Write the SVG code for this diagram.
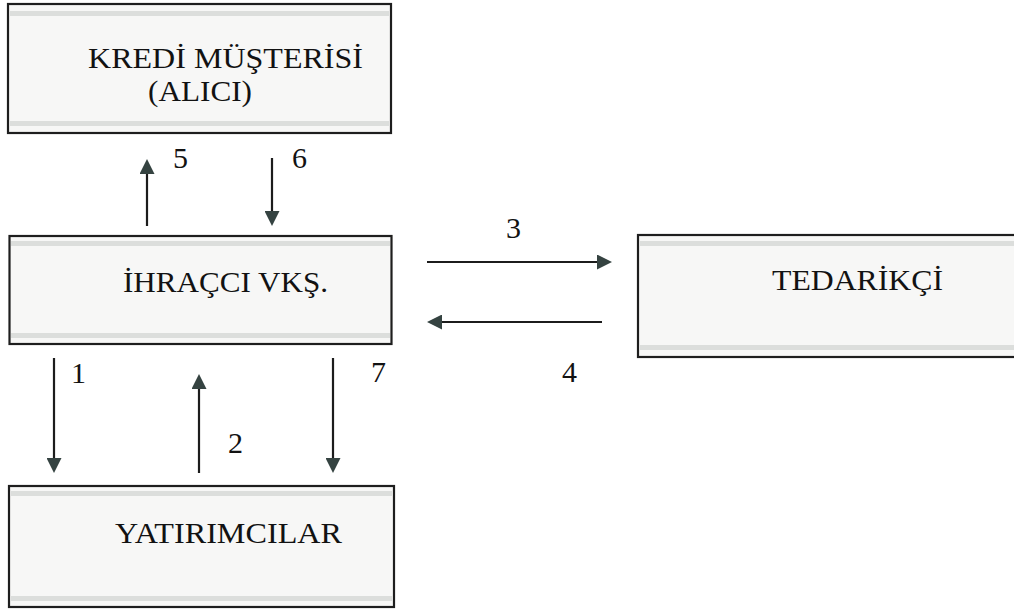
<svg xmlns="http://www.w3.org/2000/svg" width="1014" height="612" viewBox="0 0 1014 612">
<style>
.box{fill:#f7f7f6;stroke:#1e1e1e;stroke-width:2.2}
.band{fill:#dcdedc}
.lbl{font-family:"Liberation Serif","Times New Roman",serif;font-size:29px;fill:#121212}
.num{font-family:"Liberation Serif","Times New Roman",serif;font-size:30px;fill:#121212}
.arr{stroke:#1c1c1c;stroke-width:2.2;fill:none;marker-end:url(#head)}
</style>
<defs>
<marker id="head" viewBox="0 0 10 10" refX="2" refY="5" markerWidth="15" markerHeight="15" markerUnits="userSpaceOnUse" orient="auto">
<path d="M0,0 L10,5 L0,10 z" fill="#354341"/>
</marker>
</defs>
<rect width="1014" height="612" fill="#ffffff"/>
<g id="kredi">
<rect class="box" x="8" y="4" width="383" height="129"/>
<rect class="band" x="10" y="11" width="379" height="5"/>
<rect class="band" x="10" y="121" width="379" height="5"/>
<text class="lbl" x="88" y="68" textLength="275" lengthAdjust="spacingAndGlyphs">KREDİ MÜŞTERİSİ</text>
<text class="lbl" x="148" y="101" textLength="104" lengthAdjust="spacingAndGlyphs">(ALICI)</text>
</g>
<g id="ihracci">
<rect class="box" x="9.5" y="236" width="382" height="108"/>
<rect class="band" x="11" y="241" width="379" height="5"/>
<rect class="band" x="11" y="333" width="379" height="5"/>
<text class="lbl" x="123" y="292" textLength="205" lengthAdjust="spacingAndGlyphs">İHRAÇCI VKŞ.</text>
</g>
<g id="tedarikci">
<rect class="box" x="638" y="235" width="390" height="122"/>
<rect class="band" x="640" y="241" width="380" height="5"/>
<rect class="band" x="640" y="345" width="380" height="5"/>
<text class="lbl" x="772" y="290" textLength="171" lengthAdjust="spacingAndGlyphs">TEDARİKÇİ</text>
</g>
<g id="yatirimcilar">
<rect class="box" x="9" y="486" width="385" height="121"/>
<rect class="band" x="11" y="491" width="381" height="5"/>
<rect class="band" x="11" y="596" width="381" height="5"/>
<text class="lbl" x="115" y="543" textLength="227" lengthAdjust="spacingAndGlyphs">YATIRIMCILAR</text>
</g>
<g id="connectors">
<line class="arr" x1="147" y1="226" x2="147" y2="171"/>
<line class="arr" x1="272" y1="158" x2="272" y2="214"/>
<line class="arr" x1="427" y1="262" x2="600" y2="262"/>
<line class="arr" x1="602" y1="322" x2="439" y2="322"/>
<line class="arr" x1="54" y1="358" x2="54" y2="461"/>
<line class="arr" x1="199" y1="473" x2="199" y2="386"/>
<line class="arr" x1="333" y1="358" x2="333" y2="461"/>
</g>
<g id="labels">
<text class="num" x="173" y="168">5</text>
<text class="num" x="292" y="168">6</text>
<text class="num" x="506" y="238">3</text>
<text class="num" x="562" y="382">4</text>
<text class="num" x="71" y="383">1</text>
<text class="num" x="228" y="453">2</text>
<text class="num" x="371" y="382">7</text>
</g>
</svg>
